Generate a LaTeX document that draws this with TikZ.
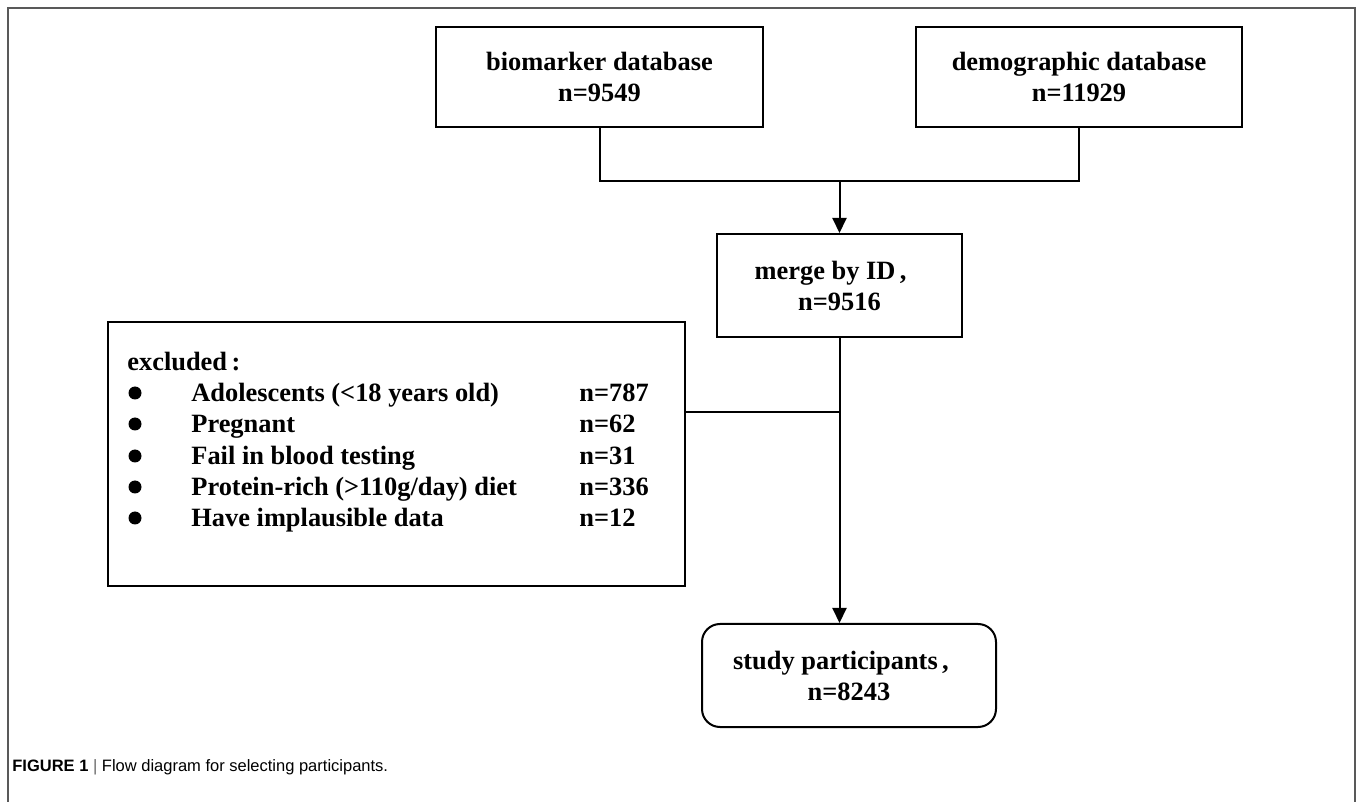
\documentclass[tikz,border=0pt]{standalone}
\usepackage{fontspec}
\setmainfont{Liberation Serif}
\newfontfamily\capfont{Liberation Sans}
\usetikzlibrary{arrows.meta}
\begin{document}
\begin{tikzpicture}[x=0.5pt,y=-0.5pt,
  box/.style={draw=black, line width=1pt, inner sep=0pt, align=center,
    font=\fontsize{13.2}{15.5}\selectfont\bfseries},
  lbl/.style={inner sep=0pt, anchor=base west, font=\fontsize{13.2}{15.5}\selectfont\bfseries},
  dot/.style={circle, fill=black, inner sep=0pt, minimum size=6.5pt},
  conn/.style={draw=black, line width=1pt},
  arr/.style={conn, -{Triangle[length=7.5pt,width=7pt]}},
  frame/.style={draw=black!65, line width=1pt}]
\useasboundingbox (0,0) rectangle (1357,802);
\draw[frame] (8,802) -- (8,8) -- (1355,8) -- (1355,802);

\node[box, minimum width=163.5pt, minimum height=50pt] (bio) at (599.5,77) {biomarker database\\n=9549};
\node[box, minimum width=163pt, minimum height=50pt] (demo) at (1079,77) {demographic database\\n=11929};
\node[box, minimum width=122.5pt, minimum height=51.5pt] (merge) at (839.5,285.5) {merge by ID\,,\hspace*{9pt}\\n=9516};
\node[box, rounded corners=9pt, minimum width=147pt, minimum height=51.5pt] (study) at (849,675.5) {study participants\,,\hspace*{8pt}\\n=8243};
\node[box, minimum width=288.5pt, minimum height=132pt] (excl) at (396.5,454) {};

\coordinate (join) at (839.5,181);
\coordinate (branch) at (839.5,412);
\draw[conn] (bio.south) |- (join) -| (demo.south);
\draw[arr] (join) -- (merge.north);
\draw[arr] (merge.south) -- (merge.south |- study.north);
\draw[conn] (excl.east |- branch) -- (branch);

\node[lbl] (exh) at (127,371) {excluded\,:};
\node[dot] (b1) at (135,393) {};
\node[dot] (b2) at (135,424) {};
\node[dot] (b3) at (135,456) {};
\node[dot] (b4) at (135,487) {};
\node[dot] (b5) at (135,518) {};
\node[lbl] (t1) at (191,402) {Adolescents (<18 years old)};
\node[lbl] (t2) at (191,433) {Pregnant};
\node[lbl] (t3) at (191,465) {Fail in blood testing};
\node[lbl] (t4) at (191,496) {Protein-rich (>110g/day) diet};
\node[lbl] (t5) at (191,527) {Have implausible data};
\node[lbl] (c1) at (579,402) {n=787};
\node[lbl] (c2) at (579,433) {n=62};
\node[lbl] (c3) at (579,465) {n=31};
\node[lbl] (c4) at (579,496) {n=336};
\node[lbl] (c5) at (579,527) {n=12};

\node[anchor=base west, inner sep=0pt, font=\capfont\fontsize{8.25}{9.9}\selectfont] (cap) at (12,771)
  {\textbf{FIGURE 1} {\color{black!60}|} Flow diagram for selecting participants.};
\end{tikzpicture}
\end{document}
